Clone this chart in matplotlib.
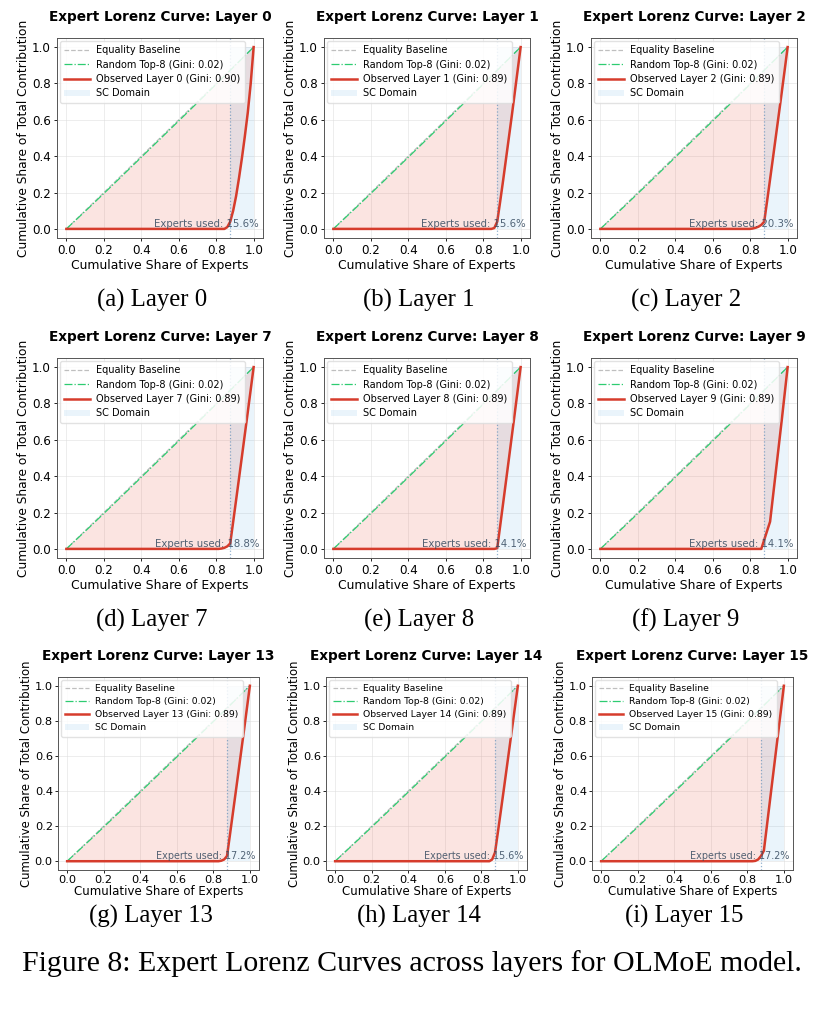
import numpy as np
import matplotlib
matplotlib.use("Agg")
import matplotlib.pyplot as plt

# --- data ---
N_EXPERTS = 64
layers = [0, 1, 2, 7, 8, 9, 13, 14, 15]
sub_letters = ["a", "b", "c", "d", "e", "f", "g", "h", "i"]
gini_obs = [0.90, 0.89, 0.89, 0.89, 0.89, 0.89, 0.89, 0.89, 0.89]
gini_rand = 0.02
experts_used = [15.6, 15.6, 20.3, 18.8, 14.1, 14.1, 17.2, 15.6, 17.2]
sc_start = 0.875  # top-8 of 64

# contribution shares of the active experts, sorted ascending (the rest are ~0)
shares_l0 = [0.01, 0.03, 0.06, 0.08, 0.10, 0.11, 0.12, 0.13, 0.16, 0.20]
shares_l1 = [0.005, 0.035, 0.11, 0.115, 0.12, 0.12, 0.12, 0.125, 0.125, 0.125]
shares_l2 = [0.002, 0.004, 0.006, 0.010, 0.018, 0.115, 0.118, 0.119, 0.12, 0.12, 0.121, 0.122, 0.125]
shares_l7 = [0.002, 0.004, 0.008, 0.016, 0.118, 0.12, 0.12, 0.121, 0.122, 0.122, 0.123, 0.124]
shares_l8 = [0.004, 0.122, 0.123, 0.124, 0.124, 0.125, 0.125, 0.126, 0.127]
shares_l9 = [0.05, 0.05, 0.05, 0.14, 0.14, 0.14, 0.14, 0.145, 0.145]
shares_l13 = [0.003, 0.007, 0.02, 0.118, 0.12, 0.12, 0.121, 0.122, 0.122, 0.123, 0.124]
shares_l14 = [0.01, 0.04, 0.115, 0.117, 0.118, 0.12, 0.12, 0.12, 0.12, 0.12]
shares_l15 = [0.002, 0.008, 0.02, 0.03, 0.134, 0.134, 0.134, 0.134, 0.134, 0.134, 0.136]
all_shares = [shares_l0, shares_l1, shares_l2, shares_l7, shares_l8, shares_l9,
              shares_l13, shares_l14, shares_l15]

# random top-8 routing baseline (almost the diagonal)
rand_x = [0.0, 0.125, 0.25, 0.375, 0.5, 0.625, 0.75, 0.875, 1.0]
rand_y = [0.0, 0.121, 0.244, 0.369, 0.494, 0.619, 0.745, 0.872, 1.0]

# --- layout (pixels in a 824x1013 canvas) ---
W, H = 824, 1013
col_left = [[57, 324, 591], [57, 324, 591], [58, 326, 592]]
row_top = [38, 358, 677]
box_w = [206, 206, 201]
box_h = [200, 200, 193]
row_scale = [1.0, 1.0, 0.95]
caption_y = [300, 620, 916]

fig = plt.figure(figsize=(W / 100, H / 100), dpi=100)

for i, layer in enumerate(layers):
    r, c = divmod(i, 3)
    s = row_scale[r]
    left = col_left[r][c]
    top = row_top[r]
    ax = fig.add_axes([left / W, 1 - (top + box_h[r]) / H, box_w[r] / W, box_h[r] / H])

    shares = np.array(all_shares[i])
    full = np.concatenate([np.zeros(N_EXPERTS - len(shares)), shares])
    x = np.arange(N_EXPERTS + 1) / N_EXPERTS
    y = np.concatenate([[0.0], np.cumsum(full)])

    ax.plot([0, 1], [0, 1], color="gray", ls="--", lw=0.9, alpha=0.5, label="Equality Baseline")
    ax.plot(rand_x, rand_y, color="#2ecc71", ls="-.", lw=0.9,
            label=f"Random Top-8 (Gini: {gini_rand:.2f})")
    ax.plot(x, y, color="#d63c2c", lw=1.8, label=f"Observed Layer {layer} (Gini: {gini_obs[i]:.2f})")
    ax.fill_between(x, x, y, color="#e74c3c", alpha=0.15, lw=0)
    ax.fill_between([sc_start, 1.0], 0, 1, color="#3498db", alpha=0.1, lw=0, label="SC Domain")
    ax.axvline(sc_start, color="#4a7fb0", ls=":", lw=0.9, alpha=0.6)

    ax.text(0.98, 0.045, f"Experts used: {experts_used[i]:.1f}%", transform=ax.transAxes,
            ha="right", va="bottom", fontsize=7.3 * s, color="#34495e", alpha=0.85)

    ax.set_xlim(-0.05, 1.05)
    ax.set_ylim(-0.05, 1.05)
    ax.set_xticks([0, 0.2, 0.4, 0.6, 0.8, 1.0])
    ax.set_yticks([0, 0.2, 0.4, 0.6, 0.8, 1.0])
    ax.grid(True, color="#dddddd", lw=0.6, alpha=0.6)
    ax.set_axisbelow(True)
    ax.tick_params(labelsize=8.6 * s, length=2.5, width=0.6, pad=2 if r < 2 else 1.2)
    for sp in ax.spines.values():
        sp.set_color("#555555")
        sp.set_linewidth(0.7)

    ax.set_title(f"Expert Lorenz Curve: Layer {layer}", fontsize=9.8,
                 fontweight="bold", pad=12)
    ax.set_xlabel("Cumulative Share of Experts", fontsize=8.9 * s, labelpad=1 if r < 2 else 0)
    ax.set_ylabel("Cumulative Share of Total Contribution", fontsize=8.8 * s, labelpad=1)
    ax.legend(loc="upper left", fontsize=7.0 * s, framealpha=0.85, edgecolor="#dddddd",
              borderpad=0.45, handlelength=2.6, handletextpad=0.7, labelspacing=0.45,
              borderaxespad=0.3)

    cx = (left + box_w[r] / 2 - 8) / W
    fig.text(cx, 1 - caption_y[r] / H, f"({sub_letters[i]}) Layer {layer}",
             ha="center", va="center", fontsize=17.8, family="Liberation Serif")

fig.text(0.5, 1 - 964 / H, "Figure 8: Expert Lorenz Curves across layers for OLMoE model.",
         ha="center", va="center", fontsize=21.5, family="Liberation Serif")

fig.savefig("out.png", dpi=100)
